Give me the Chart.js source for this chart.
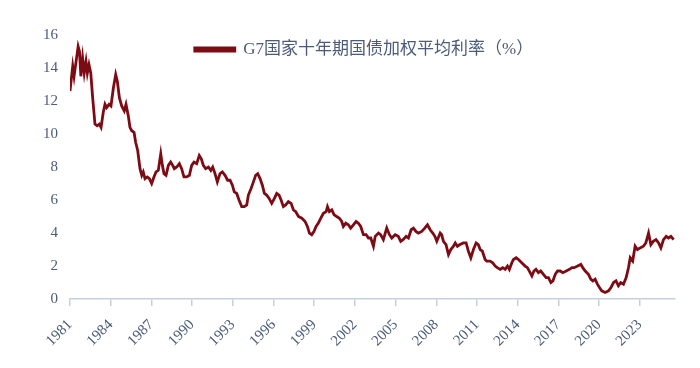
<!DOCTYPE html>
<html>
<head>
<meta charset="UTF-8">
<title>G7 10Y</title>
<script src="https://cdn.jsdelivr.net/npm/chart.js"></script>
<style>
  body { margin: 0; background: #ffffff; }
  #box { width: 700px; height: 368px; }
</style>
</head>
<body>
<div id="box"><canvas id="rateChart" width="700" height="368"></canvas></div>
<script>
// series: decimal year -> weighted avg 10y yield (%)
const years = [
  1981.00, 1981.08, 1981.20, 1981.30, 1981.45, 1981.60, 1981.70, 1981.80, 1981.93, 1982.05,
  1982.18, 1982.28, 1982.40, 1982.53, 1982.67, 1982.84, 1983.00, 1983.16, 1983.29, 1983.45,
  1983.58, 1983.70, 1983.88, 1984.02, 1984.20, 1984.37, 1984.49, 1984.64, 1984.81, 1985.00,
  1985.13, 1985.30, 1985.42, 1985.55, 1985.72, 1985.84, 1985.99, 1986.16, 1986.29, 1986.40,
  1986.53, 1986.70, 1986.85, 1987.02, 1987.19, 1987.34, 1987.51, 1987.69, 1987.81, 1987.93,
  1988.08, 1988.25, 1988.42, 1988.57, 1988.69, 1988.87, 1989.06, 1989.23, 1989.40, 1989.60,
  1989.80, 1989.97, 1990.14, 1990.34, 1990.53, 1990.68, 1990.83, 1991.00, 1991.20, 1991.38,
  1991.52, 1991.69, 1991.86, 1992.06, 1992.23, 1992.43, 1992.62, 1992.80, 1992.97, 1993.11,
  1993.29, 1993.46, 1993.66, 1993.85, 1994.03, 1994.15, 1994.35, 1994.52, 1994.69, 1994.84,
  1995.01, 1995.18, 1995.33, 1995.50, 1995.68, 1995.87, 1996.07, 1996.24, 1996.41, 1996.56,
  1996.73, 1996.90, 1997.10, 1997.30, 1997.47, 1997.64, 1997.84, 1998.09, 1998.33, 1998.50,
  1998.65, 1998.82, 1998.99, 1999.14, 1999.31, 1999.49, 1999.68, 1999.88, 1999.98, 2000.12,
  2000.30, 2000.47, 2000.66, 2000.86, 2001.03, 2001.15, 2001.33, 2001.52, 2001.69, 2001.89,
  2002.09, 2002.26, 2002.43, 2002.63, 2002.83, 2003.00, 2003.17, 2003.37, 2003.50, 2003.74,
  2003.90, 2004.10, 2004.35, 2004.55, 2004.72, 2004.97, 2005.20, 2005.38, 2005.55, 2005.78,
  2005.95, 2006.15, 2006.32, 2006.50, 2006.68, 2006.93, 2007.15, 2007.35, 2007.55, 2007.74,
  2007.90, 2008.04, 2008.29, 2008.40, 2008.53, 2008.72, 2008.90, 2009.07, 2009.27, 2009.40,
  2009.56, 2009.75, 2010.00, 2010.20, 2010.37, 2010.55, 2010.74, 2010.94, 2011.10, 2011.24,
  2011.40, 2011.60, 2011.72, 2011.97, 2012.16, 2012.34, 2012.50, 2012.71, 2012.90, 2013.08,
  2013.25, 2013.39, 2013.57, 2013.69, 2013.89, 2014.06, 2014.30, 2014.55, 2014.72, 2014.92,
  2015.05, 2015.20, 2015.35, 2015.53, 2015.70, 2015.90, 2016.10, 2016.27, 2016.45, 2016.60,
  2016.77, 2016.94, 2017.14, 2017.33, 2017.58, 2017.82, 2018.00, 2018.17, 2018.42, 2018.66,
  2018.80, 2018.98, 2019.22, 2019.40, 2019.55, 2019.71, 2019.88, 2020.03, 2020.20, 2020.45,
  2020.70, 2020.88, 2021.07, 2021.25, 2021.43, 2021.60, 2021.80, 2022.00, 2022.17, 2022.30,
  2022.48, 2022.66, 2022.83, 2023.03, 2023.27, 2023.45, 2023.65, 2023.82, 2024.00, 2024.20,
  2024.39, 2024.56, 2024.75, 2024.95, 2025.12, 2025.30, 2025.50
];
const rates = [
  12.6, 13.2, 14.1, 13.5, 14.4, 15.3, 15.0, 13.5, 14.6, 13.7,
  14.4, 13.7, 14.2, 13.7, 12.2, 10.6, 10.5, 10.6, 10.4, 11.3,
  11.8, 11.6, 11.8, 11.7, 12.8, 13.6, 13.2, 12.2, 11.7, 11.4,
  11.8, 11.1, 10.4, 10.2, 10.1, 9.5, 9.0, 7.9, 7.5, 7.7,
  7.3, 7.4, 7.3, 7.0, 7.4, 7.7, 7.8, 8.8, 8.1, 7.6,
  7.5, 8.1, 8.3, 8.1, 7.9, 8.0, 8.2, 7.9, 7.4, 7.4,
  7.5, 8.1, 8.3, 8.2, 8.7, 8.5, 8.1, 7.9, 8.0, 7.8,
  8.0, 7.6, 7.1, 7.6, 7.7, 7.5, 7.2, 7.2, 6.9, 6.5,
  6.4, 6.0, 5.6, 5.6, 5.7, 6.3, 6.7, 7.1, 7.5, 7.6,
  7.3, 6.9, 6.4, 6.3, 6.1, 5.8, 6.1, 6.4, 6.3, 6.0,
  5.6, 5.7, 5.9, 5.8, 5.4, 5.3, 5.0, 4.9, 4.7, 4.4,
  4.0, 3.9, 4.1, 4.4, 4.6, 4.9, 5.2, 5.3, 5.6, 5.3,
  5.4, 5.1, 5.0, 4.9, 4.7, 4.4, 4.6, 4.5, 4.3, 4.5,
  4.7, 4.6, 4.4, 3.9, 3.9, 3.7, 3.7, 3.2, 3.8, 4.0,
  3.9, 3.6, 4.3, 3.9, 3.7, 3.9, 3.8, 3.5, 3.6, 3.8,
  3.7, 4.2, 4.3, 4.1, 4.0, 4.1, 4.3, 4.5, 4.2, 4.0,
  3.8, 3.5, 4.0, 3.9, 3.5, 3.3, 2.7, 3.0, 3.2, 3.4,
  3.2, 3.3, 3.4, 3.4, 2.9, 2.5, 3.0, 3.4, 3.3, 3.0,
  2.9, 2.4, 2.3, 2.3, 2.2, 2.0, 1.9, 1.8, 1.9, 1.8,
  2.0, 1.8, 2.2, 2.4, 2.5, 2.4, 2.2, 2.0, 1.9, 1.6,
  1.4, 1.7, 1.8, 1.6, 1.7, 1.5, 1.3, 1.3, 1.0, 1.1,
  1.5, 1.7, 1.7, 1.6, 1.7, 1.8, 1.9, 1.9, 2.0, 2.1,
  1.9, 1.7, 1.5, 1.2, 1.1, 1.2, 0.9, 0.7, 0.5, 0.4,
  0.5, 0.7, 1.0, 1.1, 0.8, 1.0, 0.9, 1.3, 1.9, 2.5,
  2.3, 3.2, 3.0, 3.1, 3.2, 3.4, 4.0, 3.3, 3.5, 3.6,
  3.4, 3.1, 3.6, 3.8, 3.7, 3.8, 3.6
];
const tickYears = [1981, 1984, 1987, 1990, 1993, 1996, 1999, 2002, 2005, 2008, 2011, 2014, 2017, 2020, 2023];
const seriesName = 'G7国家十年期国债加权平均利率（%）';

const points = years.map((y, i) => ({ x: y, y: rates[i] }));
const lineColor = '#7d0b14';
const textColor = '#4b5b78';
const serif = '"Liberation Serif", "Times New Roman", "Noto Sans CJK SC", serif';

// legend sits inside the plot near the top, roughly centred
const legendPlace = {
  id: 'legendPlace',
  afterLayout(chart) {
    const lg = chart.legend;
    const ca = chart.chartArea;
    const w = lg.width, h = lg.height;
    lg.left = (ca.left + ca.right - w) / 2 - 6;
    lg.right = lg.left + w;
    lg.top = ca.top + 1;
    lg.bottom = lg.top + h;
  }
};

const ctx = document.getElementById('rateChart').getContext('2d');
new Chart(ctx, {
  type: 'line',
  data: {
    datasets: [{
      label: seriesName,
      data: points,
      borderColor: lineColor,
      backgroundColor: lineColor,
      borderWidth: 2.8,
      pointRadius: 0,
      tension: 0,
      fill: false
    }]
  },
  options: {
    responsive: false,
    animation: false,
    layout: { padding: { top: 35, right: 25, bottom: 8, left: 31 } },
    plugins: {
      tooltip: { enabled: false },
      legend: {
        position: 'chartArea',
        align: 'start',
        labels: {
          boxWidth: 40,
          boxHeight: 3,
          padding: 5,
          color: textColor,
          font: { family: serif, size: 17 }
        }
      }
    },
    scales: {
      x: {
        type: 'linear',
        min: 1981,
        max: 2025.6,
        afterBuildTicks: (axis) => { axis.ticks = tickYears.map(v => ({ value: v })); },
        grid: {
          display: true,
          drawOnChartArea: false,
          drawTicks: true,
          tickLength: 7,
          color: '#c3d1dd',
          lineWidth: 1.5
        },
        border: { display: true, color: '#c3d1dd', width: 1.5 },
        ticks: {
          autoSkip: false,
          maxRotation: 45,
          minRotation: 45,
          padding: 10,
          color: textColor,
          font: { family: serif, size: 15 },
          callback: (v) => String(v)
        }
      },
      y: {
        min: 0,
        max: 16,
        grid: { display: false, drawTicks: false },
        border: { display: false },
        ticks: {
          stepSize: 2,
          padding: 12,
          color: textColor,
          font: { family: serif, size: 15 }
        }
      }
    }
  },
  plugins: [legendPlace]
});
</script>
</body>
</html>
